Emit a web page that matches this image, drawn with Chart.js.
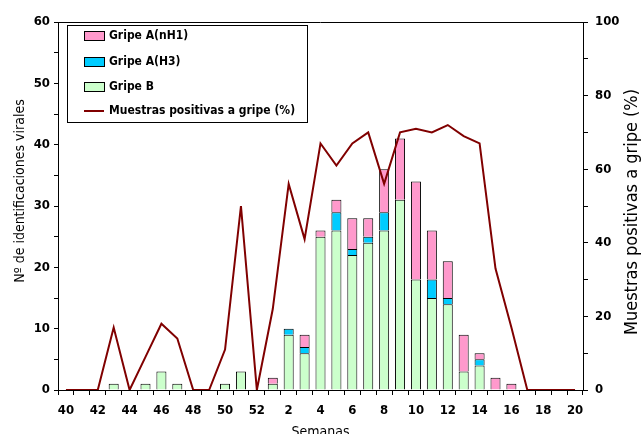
<!DOCTYPE html>
<html>
<head>
<meta charset="utf-8">
<script src="https://cdn.jsdelivr.net/npm/chart.js@4/dist/chart.umd.min.js"></script>
<style>
  html, body { margin: 0; padding: 0; background: #fff; overflow: hidden; }
  #wrap { width: 642px; height: 434px; }
</style>
</head>
<body>
<div id="wrap"><canvas id="c" width="642" height="434"></canvas></div>
<script>
// Epidemiological weeks (season runs from week 40 to week 20)
const weeks = [40, 41, 42, 43, 44, 45, 46, 47, 48, 49, 50, 51, 52,
               1, 2, 3, 4, 5, 6, 7, 8, 9, 10, 11, 12, 13, 14, 15, 16, 17, 18, 19, 20];

// Viral identifications per week
const gripeB   = [0, 0, 0, 1, 0, 1, 3, 1, 0, 0, 1, 3, 0,
                  1, 9, 6, 25, 26, 22, 24, 26, 31, 18, 15, 14, 3, 4, 0, 0, 0, 0, 0, 0];
const gripeAH3 = [0, 0, 0, 0, 0, 0, 0, 0, 0, 0, 0, 0, 0,
                  0, 1, 1, 0, 3, 1, 1, 3, 0, 0, 3, 1, 0, 1, 0, 0, 0, 0, 0, 0];
const gripeAH1 = [0, 0, 0, 0, 0, 0, 0, 0, 0, 0, 0, 0, 0,
                  1, 0, 2, 1, 2, 5, 3, 7, 10, 16, 8, 6, 6, 1, 2, 1, 0, 0, 0, 0];

// Percentage of samples positive for influenza
const positivas = [0, 0, 0, 17, 0, 9, 18, 14, 0, 0, 11, 50, 0,
                   22, 56, 41, 67, 61, 67, 70, 56, 70, 71, 70, 72, 69, 67, 33, 17, 0, 0, 0, 0];

const FONT = "'DejaVu Sans Condensed', 'DejaVu Sans', sans-serif";
const PINK = '#FF99CC', BLUE = '#00CCFF', GREEN = '#CCFFCC', RED = '#800000';

// zero counts are left empty so no outline is stroked for them
const bars = v => v.map(x => (x === 0 ? null : x));
// outline on top and sides only: stacked segments then share a single dividing line
const segBorder = { top: 1, left: 1, right: 1, bottom: 0 };

// Legend box inside the plot, the plot's top border and both vertical axis titles
const decorations = {
  id: 'decorations',
  afterDraw(chart) {
    const ctx = chart.ctx;
    const a = chart.chartArea;
    ctx.save();
    // top border of the plot area
    ctx.strokeStyle = '#000';
    ctx.lineWidth = 1;
    ctx.beginPath();
    ctx.moveTo(a.left, Math.round(a.top) + 0.5);
    ctx.lineTo(a.right, Math.round(a.top) + 0.5);
    ctx.stroke();
    ctx.restore();

    // vertical axis titles, read from bottom to top
    const vTitle = (text, x, y, size) => {
      ctx.save();
      ctx.fillStyle = '#000';
      ctx.font = size + 'px ' + FONT;
      ctx.textAlign = 'center';
      ctx.textBaseline = 'middle';
      ctx.translate(x, y);
      ctx.rotate(-Math.PI / 2);
      ctx.fillText(text, 0, 0);
      ctx.restore();
    };
    vTitle('Nº de identificaciones virales', 20, 191, 14);
    vTitle('Muestras positivas a gripe (%)', 632, 212, 18);

    // legend
    const ds = chart.data.datasets;
    const order = [2, 1, 0, 3];
    const bx = 67.5, by = 25.5, bw = 240, bh = 97;
    ctx.save();
    ctx.fillStyle = '#fff';
    ctx.fillRect(bx, by, bw, bh);
    ctx.strokeStyle = '#000';
    ctx.lineWidth = 1;
    ctx.strokeRect(bx, by, bw, bh);
    const rows = [36, 62, 87, 111];
    ctx.font = 'bold 12px ' + FONT;
    ctx.textAlign = 'left';
    ctx.textBaseline = 'middle';
    order.forEach((idx, i) => {
      const d = ds[idx];
      const y = rows[i];
      if (d.type === 'line') {
        ctx.strokeStyle = d.borderColor;
        ctx.lineWidth = 2;
        ctx.beginPath();
        ctx.moveTo(84, y);
        ctx.lineTo(104, y);
        ctx.stroke();
      } else {
        ctx.fillStyle = d.backgroundColor;
        ctx.fillRect(84.5, y - 4.5, 20, 9);
        ctx.strokeStyle = '#000';
        ctx.lineWidth = 1;
        ctx.strokeRect(84.5, y - 4.5, 20, 9);
      }
      ctx.fillStyle = '#000';
      ctx.fillText(d.label, 109, y);
    });
    ctx.restore();
  }
};

new Chart(document.getElementById('c'), {
  data: {
    labels: weeks,
    datasets: [
      { type: 'bar', label: 'Gripe B', data: bars(gripeB), backgroundColor: GREEN,
        borderColor: '#000', borderWidth: segBorder, borderSkipped: false, order: 1, yAxisID: 'y' },
      { type: 'bar', label: 'Gripe A(H3)', data: bars(gripeAH3), backgroundColor: BLUE,
        borderColor: '#000', borderWidth: segBorder, borderSkipped: false, order: 1, yAxisID: 'y' },
      { type: 'bar', label: 'Gripe A(nH1)', data: bars(gripeAH1), backgroundColor: PINK,
        borderColor: '#000', borderWidth: segBorder, borderSkipped: false, order: 1, yAxisID: 'y' },
      { type: 'line', label: 'Muestras positivas a gripe (%)', data: positivas,
        borderColor: RED, backgroundColor: RED, borderWidth: 2, pointRadius: 0,
        tension: 0, order: 0, yAxisID: 'y1' }
    ]
  },
  options: {
    responsive: false,
    animation: false,
    devicePixelRatio: 1,
    layout: { padding: { top: 22, left: 0, right: 0, bottom: 0 } },
    datasets: { bar: { barPercentage: 0.63, categoryPercentage: 1 } },
    plugins: { legend: { display: false }, tooltip: { enabled: false } },
    scales: {
      x: {
        stacked: true,
        offset: true,
        afterFit: s => { s.height = 44; },
        grid: { drawOnChartArea: false, offset: true, tickLength: 5, color: '#000' },
        border: { color: '#000', width: 1 },
        ticks: {
          autoSkip: false, maxRotation: 0, padding: 8, color: '#000',
          font: { family: FONT, size: 13, weight: 'bold' },
          callback: (v, i) => (weeks[i] % 2 === 0 ? String(weeks[i]) : '')
        },
        title: { display: true, text: 'Semanas', color: '#000',
                 font: { family: FONT, size: 14 }, padding: { top: 0, bottom: -7 } }
      },
      y: {
        position: 'left',
        stacked: true,
        min: 0, max: 60,
        afterFit: s => { s.width = 58; },
        grid: { drawOnChartArea: false, tickLength: 4, color: '#000' },
        border: { color: '#000', width: 1 },
        ticks: {
          stepSize: 5, padding: 4, color: '#000',
          font: { family: FONT, size: 13, weight: 'bold' },
          callback: v => (v % 10 === 0 ? v : '')
        }
      },
      y1: {
        position: 'right',
        min: 0, max: 100,
        afterFit: s => { s.width = 59; },
        grid: { drawOnChartArea: false, tickLength: 5, color: '#000' },
        border: { color: '#000', width: 1 },
        ticks: {
          stepSize: 10, padding: 7, color: '#000',
          font: { family: FONT, size: 13, weight: 'bold' },
          callback: v => (v % 20 === 0 ? v : '')
        }
      }
    }
  },
  plugins: [decorations]
});
</script>
</body>
</html>
